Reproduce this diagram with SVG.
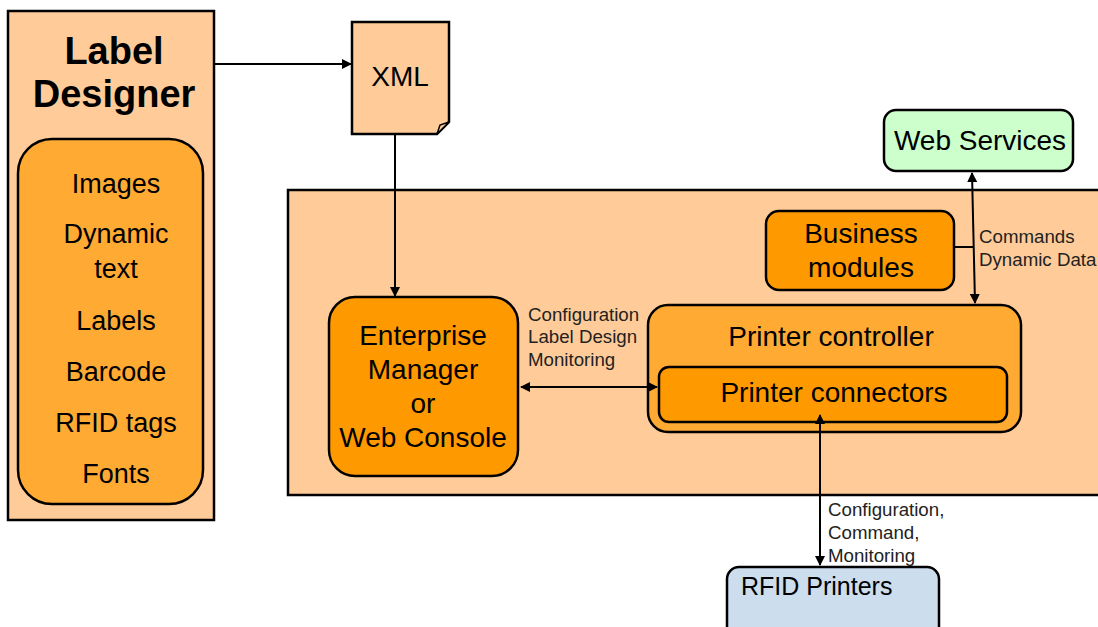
<svg xmlns="http://www.w3.org/2000/svg" width="1098" height="627" viewBox="0 0 1098 627">
  <style>
    .box { stroke: #000; stroke-width: 2.5; }
    .t { font-family: "Liberation Sans", Arial, sans-serif; font-size: 28px; fill: #000; text-anchor: middle; }
    .i { font-size: 27px; }
    .s { font-family: "Liberation Sans", Arial, sans-serif; font-size: 18.7px; fill: #222; }
    .line { stroke: #000; stroke-width: 2; fill: none; }
  </style>
  <defs>
    <marker id="arr" viewBox="0 0 10 10" refX="9" refY="5" markerWidth="5" markerHeight="5" orient="auto-start-reverse">
      <path d="M0,0 L10,5 L0,10 z" fill="#000"/>
    </marker>
  </defs>
  <rect width="1098" height="627" fill="#fff"/>

  <!-- system boundary -->
  <g id="system">
    <rect x="288" y="190" width="820" height="305" fill="#FFCC99" class="box"/>
  </g>

  <g id="label-designer">
    <rect x="8" y="11" width="206" height="509" fill="#FFCC99" class="box"/>
    <text class="t" x="114" y="64" style="font-size:38px;font-weight:bold">Label</text>
    <text class="t" x="114" y="107" style="font-size:38px;font-weight:bold">Designer</text>
    <rect x="18" y="139" width="185" height="365" rx="34" fill="#FFAA33" class="box"/>
    <text class="t i" x="116" y="193">Images</text>
    <text class="t i" x="116" y="243">Dynamic</text>
    <text class="t i" x="116" y="278">text</text>
    <text class="t i" x="116" y="330">Labels</text>
    <text class="t i" x="116" y="381">Barcode</text>
    <text class="t i" x="116" y="432">RFID tags</text>
    <text class="t i" x="116" y="483">Fonts</text>
  </g>

  <g id="xml">
    <path d="M352,22 H449 V122 L437,134 H352 Z" fill="#FFCC99" class="box"/>
    <path d="M449,122 L437,134 L440,125 Z" fill="#FFCC99" stroke="#000" stroke-width="1.5"/>
    <text class="t" x="400" y="86">XML</text>
  </g>

  <g id="enterprise-manager">
    <rect x="329" y="297" width="189" height="179" rx="26" fill="#FF9900" class="box"/>
    <text class="t" x="423" y="345">Enterprise</text>
    <text class="t" x="423" y="379">Manager</text>
    <text class="t" x="423" y="413">or</text>
    <text class="t" x="423" y="447">Web Console</text>
  </g>

  <g id="web-services">
    <rect x="884" y="110" width="189" height="61" rx="12" fill="#CCFFCC" class="box"/>
    <text class="t" x="980" y="150">Web Services</text>
  </g>

  <g id="business-modules">
    <rect x="766" y="211" width="188" height="79" rx="13" fill="#FF9900" class="box"/>
    <text class="t" x="861" y="243">Business</text>
    <text class="t" x="861" y="277">modules</text>
  </g>

  <g id="printer-controller">
    <rect x="648" y="305" width="373" height="127" rx="20" fill="#FFAA33" class="box"/>
    <text class="t" x="831" y="346">Printer controller</text>
  </g>

  <g id="printer-connectors">
    <rect x="659" y="367" width="348" height="55" rx="10" fill="#FF9900" class="box"/>
    <text class="t" x="834" y="402">Printer connectors</text>
  </g>

  <g id="rfid-printers">
    <rect x="727" y="567" width="212" height="80" rx="12" fill="#CCDDEE" class="box"/>
    <text class="t" x="741" y="595" style="text-anchor:start;font-size:25px">RFID Printers</text>
  </g>

  <g id="connectors">
    <line class="line" x1="214" y1="64" x2="351" y2="64" marker-end="url(#arr)"/>
    <line class="line" x1="395" y1="134" x2="395" y2="296" marker-end="url(#arr)"/>
    <line class="line" x1="521" y1="387" x2="657" y2="387" marker-start="url(#arr)" marker-end="url(#arr)"/>
    <line class="line" x1="972" y1="173" x2="975" y2="303" marker-start="url(#arr)" marker-end="url(#arr)"/>
    <line class="line" x1="954" y1="247" x2="973" y2="247"/>
    <line class="line" x1="820" y1="415" x2="820" y2="565" marker-start="url(#arr)" marker-end="url(#arr)"/>
    <text class="s" x="528" y="321">Configuration</text>
    <text class="s" x="528" y="343">Label Design</text>
    <text class="s" x="528" y="366">Monitoring</text>
    <text class="s" x="979" y="243">Commands</text>
    <text class="s" x="979" y="266">Dynamic Data</text>
    <text class="s" x="828" y="516">Configuration,</text>
    <text class="s" x="828" y="539">Command,</text>
    <text class="s" x="828" y="562">Monitoring</text>
  </g>
</svg>
